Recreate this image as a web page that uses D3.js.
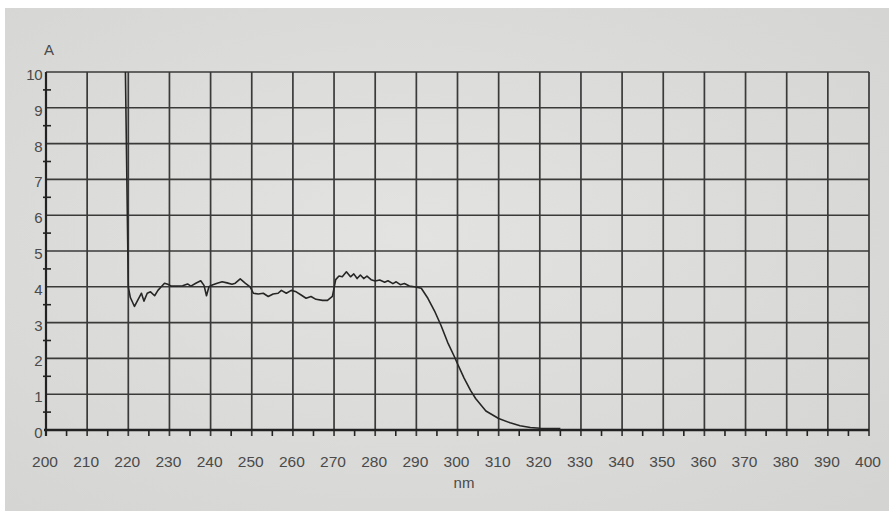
<!DOCTYPE html>
<html>
<head>
<meta charset="utf-8">
<script src="https://cdn.jsdelivr.net/npm/d3@7"></script>
<style>
html,body{margin:0;padding:0;background:#fff;}
svg{display:block;}
</style>
</head>
<body>
<svg id="chart" width="889" height="511"></svg>
<script>
// Data (wavelength in nm, absorbance A)
const wavelength = [219.3,220.0,220.5,221.5,222.4,223.2,223.8,224.6,225.4,226.4,227.2,228.0,228.8,229.6,230.4,232.0,233.2,234.4,235.2,236.4,237.6,238.4,239.0,239.6,240.4,241.6,242.8,244.0,245.2,246.0,247.2,248.4,249.6,250.4,251.6,252.8,254.0,255.2,256.4,257.2,258.4,259.6,260.8,262.0,263.2,264.4,265.6,267.2,268.4,269.6,270.4,271.2,272.0,273.0,274.0,274.8,275.6,276.4,277.2,278.0,279.0,280.0,281.1,282.3,283.1,284.3,285.1,286.1,287.1,288.3,289.5,291.2,292.8,294.4,296.0,297.6,299.2,300.0,301.6,303.2,304.4,306.9,310.0,312.8,315.2,317.7,320.1,325.0];
const absorbance = [10,4.0,3.7,3.45,3.65,3.82,3.6,3.82,3.86,3.75,3.9,4.0,4.1,4.07,4.02,4.02,4.03,4.08,4.02,4.1,4.17,4.04,3.75,4.0,4.05,4.1,4.14,4.11,4.07,4.1,4.22,4.1,4.0,3.82,3.8,3.82,3.73,3.8,3.82,3.9,3.82,3.9,3.86,3.77,3.68,3.73,3.65,3.62,3.62,3.73,4.2,4.3,4.28,4.42,4.28,4.36,4.23,4.33,4.23,4.3,4.2,4.16,4.19,4.13,4.17,4.09,4.14,4.06,4.09,4.02,4.0,3.96,3.68,3.33,2.92,2.45,2.06,1.85,1.45,1.1,0.88,0.53,0.32,0.2,0.12,0.07,0.05,0.04];
const xTicks = [200,210,220,230,240,250,260,270,280,290,300,310,320,330,340,350,360,370,380,390,400];
const yTicks = [0,1,2,3,4,5,6,7,8,9,10];
const xMinor = d3.range(205, 400, 10);
const yMinor = [0.5,1.5,2.5,3.5,4.5,5.5,6.5,7.5,8.5,9.5];
const xTitle = "nm";
const yTitle = "A";

const svg = d3.select("#chart");
const W = 889, H = 511;
const x = d3.scaleLinear().domain([200,400]).range([46,869]);
const y = d3.scaleLinear().domain([0,10]).range([430,72]);

// paper background
const defs = svg.append("defs");
const grad = defs.append("radialGradient").attr("id","paper").attr("cx","45%").attr("cy","45%").attr("r","75%");
grad.append("stop").attr("offset","0%").attr("stop-color","#e3e3e1");
grad.append("stop").attr("offset","100%").attr("stop-color","#d4d4d2");
svg.append("rect").attr("width",W).attr("height",H).attr("fill","#ffffff");
svg.append("rect").attr("x",5).attr("y",8).attr("width",W-5).attr("height",H-8).attr("fill","url(#paper)");

const ink = "#3a3a3a";
const textCol = "#4a4a4a";
const font = "'Liberation Sans', Arial, sans-serif";

// grid
const g = svg.append("g");
g.selectAll("line.vg").data(xTicks).enter().append("line")
  .attr("x1",d=>x(d)).attr("x2",d=>x(d)).attr("y1",y(10)).attr("y2",y(0)+6)
  .attr("stroke",ink).attr("stroke-width",1.7);
g.selectAll("line.hg").data(yTicks).enter().append("line")
  .attr("x1",x(200)).attr("x2",x(400)).attr("y1",d=>y(d)).attr("y2",d=>y(d))
  .attr("stroke",ink).attr("stroke-width",1.6);

// axes (thicker)
g.append("line").attr("x1",x(200)-2).attr("x2",x(400)).attr("y1",y(0)).attr("y2",y(0))
  .attr("stroke","#222").attr("stroke-width",2.6);
g.append("line").attr("x1",x(200)).attr("x2",x(200)).attr("y1",y(10)).attr("y2",y(0)+6)
  .attr("stroke","#222").attr("stroke-width",2.2);

// minor ticks
g.selectAll("line.xm").data(xMinor).enter().append("line")
  .attr("x1",d=>x(d)).attr("x2",d=>x(d)).attr("y1",y(0)).attr("y2",y(0)+6)
  .attr("stroke","#222").attr("stroke-width",1.6);
g.selectAll("line.ym").data(yMinor).enter().append("line")
  .attr("x1",x(200)-3).attr("x2",x(200)+5).attr("y1",d=>y(d)).attr("y2",d=>y(d))
  .attr("stroke","#222").attr("stroke-width",1.6);

// tick labels
svg.append("g").selectAll("text").data(xTicks).enter().append("text")
  .attr("x",d=>x(d)-1).attr("y",y(0)+37)
  .attr("text-anchor","middle").attr("font-family",font).attr("font-size",15.5)
  .attr("fill",textCol).text(d=>d);
svg.append("g").selectAll("text").data(yTicks).enter().append("text")
  .attr("x",42).attr("y",d=>y(d)+8)
  .attr("text-anchor","end").attr("font-family",font).attr("font-size",15)
  .attr("fill",textCol).attr("letter-spacing",-0.5).text(d=>d);

// titles
svg.append("text").attr("x",49).attr("y",55).attr("text-anchor","middle")
  .attr("font-family",font).attr("font-size",15).attr("fill",textCol).text(yTitle);
svg.append("text").attr("x",464).attr("y",488).attr("text-anchor","middle")
  .attr("font-family",font).attr("font-size",15).attr("fill",textCol).text(xTitle);

// spectrum
const pts = wavelength.map((w,i)=>[w,absorbance[i]]);
const line = d3.line().x(d=>x(d[0])).y(d=>y(d[1]));
svg.append("path").datum(pts).attr("d",line)
  .attr("fill","none").attr("stroke","#262626").attr("stroke-width",1.6)
  .attr("stroke-linejoin","round");
</script>
</body>
</html>
